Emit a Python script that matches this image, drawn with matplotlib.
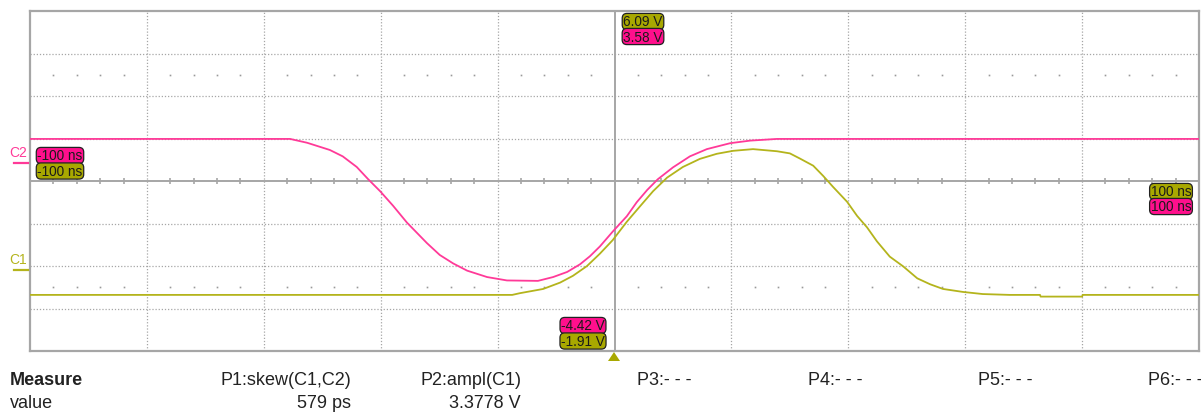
import numpy as np
import matplotlib
matplotlib.use("Agg")
import matplotlib.pyplot as plt
from matplotlib.lines import Line2D
from matplotlib.patches import Polygon

W, H = 1201, 414

COR_C1 = "#b4b41c"
COR_C1_BOX = "#a8a800"
COR_C2 = "#ff3a98"
COR_C2_BOX = "#ff0f8c"
COR_GRADE = "#a6a6a6"
COR_TXT = "#222222"

# canais: 1 V/div, valor no centro da tela
VOLTS_DIV = 1.0
C1_CENTRO = 2.09
C2_CENTRO = -0.42

# C2 (rosa) - tempo em ns, tensao em V
t_c2 = [-100, -55.5, -52.6, -48.7, -46.5, -44.1, -42.2, -40.1, -37.9, -35.5,
        -32.1, -29.9, -27.6, -25.2, -21.8, -18.4, -13.1, -10.5, -8.1, -5.9,
        -4.2, -2.5, -0.3, 2.1, 3.8, 5.6, 7.4, 10.0, 12.9, 15.8,
        19.8, 23.2, 27.8, 100]
v_c2 = [0.57, 0.57, 0.48, 0.31, 0.16, -0.09, -0.37, -0.66, -1.00, -1.40,
        -1.88, -2.16, -2.36, -2.53, -2.68, -2.76, -2.77, -2.68, -2.56, -2.38,
        -2.19, -1.96, -1.61, -1.25, -0.92, -0.63, -0.38, -0.10, 0.16, 0.33,
        0.47, 0.53, 0.57, 0.57]

# C1 (oliva)
t_c1 = [-100, -17.5, -16.2, -12.2, -9.3, -7.1, -4.7, -2.5, -0.3, 2.1,
        4.4, 6.6, 9.0, 11.7, 14.6, 17.5, 20.3, 23.7, 27.8, 30.0,
        31.7, 34.0, 35.7, 37.4, 39.8, 41.5, 43.2, 44.9, 47.1, 49.4,
        51.8, 54.0, 56.2, 59.6, 63.0, 67.6, 72.8, 72.9, 80.0, 80.1, 100]
v_c1 = [-0.59, -0.59, -0.55, -0.45, -0.30, -0.14, 0.09, 0.38, 0.70, 1.13,
        1.50, 1.85, 2.17, 2.42, 2.61, 2.73, 2.80, 2.84, 2.79, 2.74,
        2.62, 2.45, 2.21, 1.95, 1.60, 1.27, 1.00, 0.67, 0.31, 0.08,
        -0.20, -0.34, -0.45, -0.52, -0.57, -0.59, -0.59, -0.63, -0.63, -0.59, -0.59]

medidas = ["P1:skew(C1,C2)", "P2:ampl(C1)", "P3:- - -", "P4:- - -", "P5:- - -", "P6:- - -"]
valores = ["579 ps", "3.3778 V", "", "", "", ""]


def px(x, y):
    return x / W, 1 - y / H


def caixa(x, y, txt, cor):
    fig.text(*px(x, y), txt, ha="center", va="center", fontsize=9.8,
             family="Liberation Sans", color="#1a1a1a",
             bbox=dict(boxstyle="round,pad=0.08,rounding_size=0.35",
                       facecolor=cor, edgecolor="#222", linewidth=0.9))


fig = plt.figure(figsize=(W / 100, H / 100), dpi=100)
fig.patch.set_facecolor("white")
ax = fig.add_axes([30 / W, (H - 352) / H, 1169 / W, 340 / H])
ax.set_xlim(-100, 100)
ax.set_ylim(-4, 4)
ax.set_xticks([])
ax.set_yticks([])
for s in ax.spines.values():
    s.set_color(COR_GRADE)
    s.set_linewidth(1.6)

# grade pontilhada
for t in np.arange(-80, 81, 20):
    if t != 0:
        ax.axvline(t, color=COR_GRADE, lw=0.9, ls=(0, (1, 1.5)), zorder=1)
for d in [-3, -2, -1, 1, 2, 3]:
    ax.axhline(d, color=COR_GRADE, lw=0.9, ls=(0, (1, 1.5)), zorder=1)
ax.axhline(0, color=COR_GRADE, lw=1.4, zorder=1)
ax.axvline(0, color=COR_GRADE, lw=1.4, zorder=1)

minor = [t for t in np.arange(-96, 97, 4) if t % 20 != 0]
ax.vlines(minor, -0.08, 0.08, color=COR_GRADE, lw=1.2, zorder=1)
for d in [-2.5, 2.5]:
    ax.plot(minor, [d] * len(minor), ls="none", marker="s", ms=1.2,
            color="#999", mec="none", zorder=1)

# tracos
y_c2 = (np.array(v_c2) - C2_CENTRO) / VOLTS_DIV
y_c1 = (np.array(v_c1) - C1_CENTRO) / VOLTS_DIV
ax.plot(t_c1, y_c1, color=COR_C1, lw=1.3, zorder=3)
ax.plot(t_c2, y_c2, color=COR_C2, lw=1.3, zorder=4)

# marcadores de canal (nivel zero)
z2 = 182 + (C2_CENTRO / VOLTS_DIV) * 42.5
z1 = 182 + (C1_CENTRO / VOLTS_DIV) * 42.5
for nome, z, cor in [("C2", z2, COR_C2), ("C1", z1, COR_C1)]:
    fig.text(*px(18, z - 11), nome, ha="center", va="center", fontsize=10,
             family="Liberation Sans", color=cor)
    x0, y0 = px(14, z)
    x1, y1 = px(28, z)
    fig.add_artist(Line2D([x0, x1], [y0, y1], color=cor, lw=1.6))

# cursores
caixa(60, 156.5, "-100 ns", COR_C2_BOX)
caixa(60, 172, "-100 ns", COR_C1_BOX)
caixa(643, 22.5, "6.09 V", COR_C1_BOX)
caixa(643, 37.5, "3.58 V", COR_C2_BOX)
caixa(583, 326.5, "-4.42 V", COR_C2_BOX)
caixa(583, 342, "-1.91 V", COR_C1_BOX)
caixa(1171, 192.5, "100 ns", COR_C1_BOX)
caixa(1171, 207.5, "100 ns", COR_C2_BOX)

# trigger
tri = Polygon([px(608, 362), px(620, 362), px(614, 353)], closed=True,
              facecolor=COR_C1_BOX, edgecolor="none", transform=fig.transFigure)
fig.add_artist(tri)

# tabela de medidas
fs = 13
fig.text(*px(10, 381), "Measure", ha="left", va="center", fontsize=fs,
         fontweight="bold", family="Liberation Sans", color=COR_TXT)
fig.text(*px(10, 404), "value", ha="left", va="center", fontsize=fs,
         family="Liberation Sans", color=COR_TXT)
dir_col = [351, 521, 690, 860, 1030, 1200]
esq_col = [217, 419, 637, 808, 978, 1148]
for i, (m, v) in enumerate(zip(medidas, valores)):
    if v:
        fig.text(*px(dir_col[i], 381), m, ha="right", va="center", fontsize=fs,
                 family="Liberation Sans", color=COR_TXT)
        fig.text(*px(dir_col[i], 404), v, ha="right", va="center", fontsize=fs,
                 family="Liberation Sans", color=COR_TXT)
    else:
        fig.text(*px(esq_col[i], 381), m, ha="left", va="center", fontsize=fs,
                 family="Liberation Sans", color=COR_TXT)

fig.savefig("out.png", dpi=100)
